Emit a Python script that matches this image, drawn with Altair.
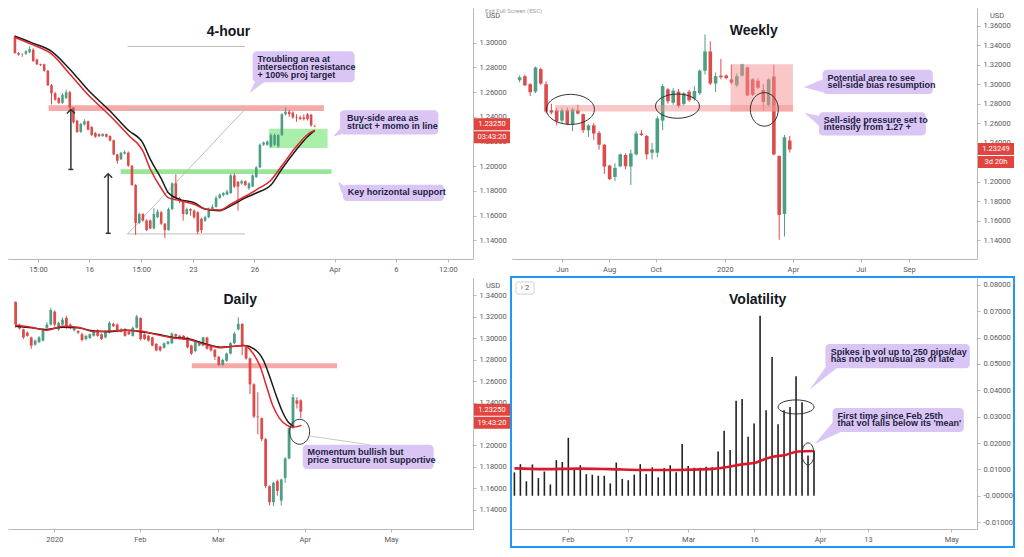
import altair as alt
import pandas as pd

W, H = 465, 251
GREEN = "#4c9f83"
RED = "#dc4c4c"
LAV = "#dac6f4"
NAVY = "#1d1d3f"
AXC = "#b8b8b8"
LABC = "#5a5a5a"
TAGC = "#e2453f"

# ---------------- 4-hour ----------------
H4_OPEN = [1.3052,1.2917,1.2904,1.2911,1.2922,1.2943,1.2864,1.2825,1.2825,1.2773,
           1.2656,1.2591,1.2552,1.2513,1.2552,1.2599,1.2474,1.2369,1.2278,1.2338,
           1.2364,1.2317,1.2270,1.2260,1.2244,1.2260,1.2244,1.2211,1.2096,1.2057,
           1.2103,1.2109,1.2004,1.1848,1.1541,1.1613,1.1561,1.1561,1.1496,1.1587,
           1.1627,1.1535,1.1483,1.1653,1.1861,1.1744,1.1723,1.1613,1.1653,1.1640,
           1.1627,1.1574,1.1560,1.1587,1.1653,1.1671,1.1744,1.1765,1.1770,1.1783,
           1.1926,1.1874,1.1861,1.1879,1.1822,1.1835,1.1913,1.1991,1.2174,1.2174,
           1.2161,1.2174,1.2161,1.2252,1.2421,1.2442,1.2434,1.2395,1.2395,1.2395,
           1.2421,1.2416,1.2325]
H4_CLOSE = [1.2917,1.2904,1.2906,1.2930,1.2948,1.2851,1.2825,1.2818,1.2773,1.2656,
            1.2591,1.2539,1.2513,1.2578,1.2599,1.2474,1.2356,1.2278,1.2343,1.2364,
            1.2296,1.2252,1.2239,1.2244,1.2260,1.2239,1.2208,1.2096,1.2044,1.2109,
            1.2114,1.2004,1.1848,1.1541,1.1613,1.1561,1.1483,1.1496,1.1613,1.1632,
            1.1535,1.1483,1.1653,1.1861,1.1744,1.1723,1.1613,1.1653,1.1640,1.1587,
            1.1470,1.1483,1.1587,1.1653,1.1671,1.1744,1.1770,1.1783,1.1796,1.1926,
            1.1835,1.1835,1.1879,1.1848,1.1861,1.1926,1.1991,1.2174,1.2192,1.2200,
            1.2252,1.2252,1.2252,1.2421,1.2442,1.2421,1.2395,1.2390,1.2382,1.2382,
            1.2382,1.2330,1.2322]
H4_HIGH = [1.3060,1.2925,1.2915,1.2940,1.2969,1.2955,1.2870,1.2830,1.2830,1.2780,
           1.2665,1.2600,1.2560,1.2590,1.2620,1.2610,1.2480,1.2375,1.2350,1.2380,
           1.2370,1.2325,1.2275,1.2265,1.2268,1.2265,1.2250,1.2215,1.2100,1.2115,
           1.2130,1.2120,1.2010,1.1855,1.1625,1.1620,1.1570,1.1570,1.1660,1.1650,
           1.1640,1.1540,1.1665,1.1870,1.1935,1.1750,1.1730,1.1665,1.1660,1.1650,
           1.1635,1.1585,1.1600,1.1665,1.1690,1.1760,1.1780,1.1790,1.1810,1.1940,
           1.1945,1.1880,1.1890,1.1885,1.1870,1.1935,1.2000,1.2185,1.2200,1.2210,
           1.2265,1.2265,1.2260,1.2430,1.2475,1.2455,1.2445,1.2420,1.2410,1.2420,
           1.2430,1.2425,1.2335]
H4_LOW = [1.2910,1.2895,1.2885,1.2900,1.2915,1.2845,1.2820,1.2812,1.2765,1.2650,
          1.2500,1.2530,1.2505,1.2505,1.2545,1.2465,1.2345,1.2270,1.2270,1.2330,
          1.2290,1.2245,1.2230,1.2235,1.2238,1.2232,1.2200,1.2090,1.2020,1.2050,
          1.2095,1.1995,1.1840,1.1444,1.1530,1.1550,1.1475,1.1490,1.1490,1.1580,
          1.1525,1.1418,1.1478,1.1645,1.1735,1.1700,1.1560,1.1605,1.1600,1.1575,
          1.1450,1.1460,1.1550,1.1580,1.1645,1.1665,1.1735,1.1755,1.1765,1.1775,
          1.1825,1.1640,1.1850,1.1840,1.1810,1.1830,1.1905,1.1985,1.2165,1.2165,
          1.2150,1.2165,1.2150,1.2245,1.2410,1.2400,1.2385,1.2360,1.2375,1.2370,
          1.2370,1.2320,1.2318]
H4_MA_X = [0, 5, 10, 15, 20, 26, 31, 35, 37, 40, 42, 45, 49, 52, 56, 59, 63, 66, 70, 73, 77, 80, 82]
H4_MA_BLACK = [1.3052,1.2995,1.2930,1.2786,1.2617,1.2447,1.2291,1.2187,1.2057,1.1900,1.1783,1.1731,
               1.1705,1.1653,1.1640,1.1679,1.1744,1.1783,1.1848,1.1978,1.2135,1.2239,1.2291]
H4_MA_RED = [1.3042,1.2982,1.2909,1.2747,1.2578,1.2408,1.2252,1.2122,1.1978,1.1822,1.1744,1.1723,
             1.1692,1.1653,1.1645,1.1692,1.1757,1.1809,1.1887,1.2004,1.2161,1.2257,1.2291]
H4_TICK_POS = [6.3, 20.3, 34.5, 48.7, 65.5, 87.4, 104.2, 118.4]
H4_TICK_LAB = ["15:00", "16", "15:00", "23", "26", "Apr", "6", "12:00"]
H4_YVALS = [1.14, 1.16, 1.18, 1.20, 1.22, 1.24, 1.26, 1.28, 1.30]

# ---------------- Weekly ----------------
WK_OPEN = [1.3040,1.3082,1.3000,1.2924,1.3155,1.3000,1.2733,1.2733,1.2627,1.2733,
           1.2588,1.2733,1.2693,1.2528,1.2578,1.2502,1.2380,1.2166,1.2050,1.2159,
           1.2275,1.2156,1.2281,1.2495,1.2469,1.2298,1.2298,1.2627,1.2947,1.2809,
           1.2924,1.2799,1.2924,1.2852,1.2908,1.3138,1.3336,1.3007,1.3089,1.3089,
           1.3049,1.2990,1.3089,1.3171,1.3049,1.3036,1.2941,1.2786,1.3079,1.2265,
           1.1671,1.2423]
WK_CLOSE = [1.3072,1.2990,1.2918,1.3171,1.3007,1.2720,1.2710,1.2621,1.2733,1.2594,
            1.2743,1.2700,1.2528,1.2578,1.2495,1.2380,1.2156,1.2027,1.2143,1.2281,
            1.2159,1.2291,1.2495,1.2479,1.2281,1.2331,1.2650,1.2980,1.2825,1.2934,
            1.2776,1.2908,1.2835,1.2931,1.3138,1.3336,1.3007,1.3082,1.3072,1.3063,
            1.3016,1.3082,1.3204,1.2885,1.2891,1.2964,1.2819,1.3049,1.2281,1.1661,
            1.2456,1.2331]
WK_HIGH = [1.3090,1.3100,1.3010,1.3180,1.3170,1.3030,1.2800,1.2760,1.2760,1.2760,
           1.2760,1.2790,1.2700,1.2590,1.2600,1.2520,1.2390,1.2175,1.2190,1.2290,
           1.2290,1.2330,1.2520,1.2530,1.2480,1.2400,1.2670,1.3000,1.2960,1.2960,
           1.2950,1.2920,1.2940,1.2980,1.3150,1.3510,1.3440,1.3120,1.3260,1.3100,
           1.3200,1.3110,1.3210,1.3180,1.3060,1.3060,1.3000,1.3060,1.3200,1.2270,
           1.2480,1.2470]
WK_LOW = [1.3020,1.2980,1.2880,1.2910,1.2990,1.2700,1.2690,1.2580,1.2600,1.2580,
          1.2520,1.2690,1.2500,1.2460,1.2430,1.2330,1.2080,1.2020,1.2010,1.2150,
          1.2130,1.1968,1.2270,1.2470,1.2230,1.2230,1.2250,1.2530,1.2800,1.2790,
          1.2760,1.2780,1.2820,1.2830,1.2890,1.3100,1.2990,1.2920,1.3050,1.3050,
          1.3000,1.2970,1.3080,1.2880,1.2880,1.2950,1.2730,1.2770,1.2270,1.1407,
          1.1440,1.2300]
WK_TICK_POS = [8.0, 16.9, 25.7, 38.75, 51.6, 64.4, 73.5]
WK_TICK_LAB = ["Jun", "Aug", "Oct", "2020", "Apr", "Jul", "Sep"]
WK_YVALS = [1.14, 1.16, 1.18, 1.20, 1.22, 1.24, 1.26, 1.28, 1.30, 1.32, 1.34, 1.36]

# ---------------- Daily ----------------
D_OPEN = [1.3340,1.3128,1.3083,1.3053,1.3008,1.2941,1.2963,1.2978,1.3098,1.3128,
          1.3249,1.3083,1.3128,1.3189,1.3128,1.3074,1.3068,1.3038,1.2993,1.3002,
          1.3023,1.3074,1.3038,1.3008,1.3053,1.3135,1.3128,1.3062,1.3083,1.3062,
          1.3023,1.3098,1.3189,1.3038,1.3023,1.3008,1.2948,1.2923,1.2911,1.2948,
          1.2954,1.3038,1.3023,1.3023,1.3008,1.2932,1.2881,1.2932,1.2932,1.3008,
          1.2932,1.2893,1.2827,1.2751,1.2791,1.2857,1.2954,1.3083,1.3135,1.2917,
          1.2812,1.2570,1.2269,1.2254,1.2058,1.1620,1.1469,1.1665,1.1484,1.1696,
          1.1877,1.2163,1.2420,1.2420]
D_CLOSE = [1.3128,1.3092,1.3008,1.3023,1.2932,1.2978,1.3008,1.3083,1.3128,1.3264,
           1.3128,1.3144,1.3174,1.3098,1.3098,1.3092,1.3053,1.2984,1.3023,1.3038,
           1.3062,1.3023,1.2993,1.3068,1.3144,1.3113,1.3068,1.3083,1.3023,1.3038,
           1.3098,1.3204,1.2993,1.2993,1.2978,1.2932,1.2887,1.2887,1.2954,1.2969,
           1.3044,1.3017,1.3008,1.2993,1.2917,1.2857,1.2963,1.2963,1.3008,1.2902,
           1.2887,1.2827,1.2751,1.2797,1.2857,1.2954,1.3044,1.3135,1.2932,1.2812,
           1.2570,1.2269,1.2263,1.2058,1.1620,1.1469,1.1650,1.1575,1.1681,1.1877,
           1.2163,1.2450,1.2389,1.2314]
D_HIGH = [1.3345,1.3135,1.3090,1.3065,1.3015,1.2990,1.3020,1.3090,1.3150,1.3285,
          1.3260,1.3155,1.3195,1.3210,1.3140,1.3100,1.3075,1.3050,1.3030,1.3045,
          1.3075,1.3085,1.3045,1.3075,1.3160,1.3145,1.3140,1.3095,1.3095,1.3070,
          1.3110,1.3219,1.3195,1.3045,1.3030,1.3015,1.2955,1.2930,1.2960,1.2975,
          1.3055,1.3045,1.3030,1.3030,1.3015,1.2940,1.2975,1.2975,1.3015,1.3015,
          1.2940,1.2900,1.2835,1.2810,1.2865,1.2965,1.3060,1.3195,1.3140,1.2925,
          1.2820,1.2580,1.2495,1.2260,1.2070,1.1625,1.1660,1.1681,1.1690,1.1890,
          1.2170,1.2480,1.2450,1.2430]
D_LOW = [1.3098,1.3080,1.2995,1.3015,1.2900,1.2930,1.2955,1.2970,1.3090,1.3120,
         1.3110,1.3070,1.3120,1.3090,1.3085,1.3065,1.3040,1.2970,1.2980,1.2995,
         1.3015,1.3015,1.2985,1.3000,1.3045,1.3105,1.3060,1.3055,1.3015,1.3030,
         1.3015,1.3090,1.2978,1.2985,1.2970,1.2925,1.2880,1.2875,1.2905,1.2940,
         1.2945,1.3010,1.3000,1.2985,1.2905,1.2845,1.2870,1.2925,1.2925,1.2895,
         1.2875,1.2797,1.2740,1.2740,1.2780,1.2850,1.2945,1.3075,1.2842,1.2800,
         1.2480,1.2255,1.2103,1.2040,1.1600,1.1439,1.1433,1.1530,1.1439,1.1650,
         1.1870,1.2155,1.2344,1.2254]
D_MA_DARK_X = [0, 4, 8, 12, 16, 20, 24, 28, 32, 36.3, 40.4, 44.5, 48.6, 52.7, 55.2, 58.5, 61, 63.4, 65, 66.7, 68.3, 70, 71.2]
D_MA_DARK = [1.3113,1.3098,1.3083,1.3104,1.3098,1.3068,1.3062,1.3074,1.3062,1.3038,1.3008,1.2993,
             1.2948,1.2917,1.2923,1.2932,1.2902,1.2797,1.2646,1.2465,1.2314,1.2208,1.2178]
D_MA_RED_X = [0, 4, 8, 12, 16, 20, 24, 28, 32, 36.3, 40.4, 44.5, 48.6, 52.7, 55.2, 58.5, 60.5, 62.6, 64.2, 65.8, 67.5, 69.5, 70.8, 72, 73.2]
D_MA_RED = [1.3122,1.3104,1.3074,1.3113,1.3104,1.3062,1.3068,1.3074,1.3068,1.3032,1.3002,1.2987,
            1.2941,1.2911,1.2923,1.2932,1.2872,1.2736,1.2555,1.2374,1.2254,1.2187,1.2169,1.2175,1.2187]
D_TICK_POS = [9.9, 31.8, 51.8, 74.0, 96.1]
D_TICK_LAB = ["2020", "Feb", "Mar", "Apr", "May"]
D_YVALS = [1.14, 1.16, 1.18, 1.20, 1.22, 1.24, 1.26, 1.28, 1.30, 1.32, 1.34]

# ---------------- Volatility ----------------
VOL = [0.0089,0.0120,0.0055,0.0119,0.0067,0.0092,0.0043,0.0135,0.0128,0.0220,
       0.0104,0.0116,0.0082,0.0080,0.0076,0.0076,0.0047,0.0126,0.0064,0.0059,
       0.0080,0.0120,0.0082,0.0108,0.0070,0.0105,0.0116,0.0089,0.0196,0.0113,
       0.0106,0.0106,0.0110,0.0108,0.0168,0.0247,0.0174,0.0360,0.0367,0.0224,
       0.0274,0.0683,0.0324,0.0526,0.0271,0.0324,0.0337,0.0453,0.0355,0.0153,
       0.0171]
VOL_MEAN_X = [0, 5, 10.5, 16, 21.5, 27, 32.5, 35.3, 38, 40.2, 41.3, 43, 45.2, 47.4, 50]
VOL_MEAN = [0.0104,0.0101,0.0103,0.0101,0.0098,0.0098,0.0101,0.0108,0.0119,0.0125,0.0135,0.0147,0.0155,0.0168,0.0170]
V_TICK_POS = [8.9, 19, 29, 40, 51, 59, 72.9]
V_TICK_LAB = ["Feb", "17", "Mar", "16", "Apr", "13", "May"]
V_YVALS = [-0.01, 0.0, 0.01, 0.02, 0.03, 0.04, 0.05, 0.06, 0.07, 0.08]

TAGP = "M-1,-0.333L1,-0.333L1,0.333L-1,0.333Z"


def ellipse(r):
    k = 0.5523
    return (f"M1,0C1,{k*r:.3f} {k},{r} 0,{r}C-{k},{r} -1,{k*r:.3f} -1,0"
            f"C-1,-{k*r:.3f} -{k},-{r} 0,-{r}C{k},-{r} 1,-{k*r:.3f} 1,0Z")


def lab_expr(pos, labels):
    e = "''"
    for p, l in reversed(list(zip(pos, labels))):
        e = f"datum.value == {p} ? '{l}' : ({e})"
    return e


def xaxis(pos, labels):
    return alt.Axis(values=pos, labelExpr=lab_expr(pos, labels), title=None, grid=False,
                    domainColor=AXC, tickColor=AXC, tickSize=3, labelPadding=3,
                    labelFontSize=7.5, labelColor=LABC, labelFont="Roboto",
                    labelOverlap=False, labelFlush=False, minExtent=18, maxExtent=18,
                    labelFontWeight={"condition": {"test": "datum.label == '2020'", "value": "bold"},
                                     "value": "normal"})


def yaxis(vals, expr=None):
    kw = dict(orient="right", values=vals, format=".5f", title=None, grid=False,
              domainColor=AXC, tickColor=AXC, tickSize=3, labelPadding=3,
              labelFontSize=7.5, labelColor=LABC, labelFont="Roboto",
              labelOverlap=False, labelFlush=False, minExtent=39, maxExtent=39)
    if expr:
        kw["labelExpr"] = expr
    return alt.Axis(**kw)


class Panel:
    def __init__(self, xd, yd, xax, yax):
        self.xs = alt.Scale(domain=xd, nice=False, zero=False)
        self.ys = alt.Scale(domain=yd, nice=False, zero=False)
        self.xax = xax
        self.yax = yax

    def X(self, f):
        return alt.X(f, type="quantitative", scale=self.xs, axis=self.xax)

    def Y(self, f):
        return alt.Y(f, type="quantitative", scale=self.ys, axis=self.yax)


def candles(P, o, h, l, c, body):
    df = pd.DataFrame({"i": list(range(len(o))), "o": o, "h": h, "l": l, "c": c})
    col = alt.condition("datum.c >= datum.o", alt.value(GREEN), alt.value(RED))
    base = alt.Chart(df)
    wick = base.mark_rule(strokeWidth=1).encode(x=P.X("i"), y=P.Y("l"), y2="h", color=col)
    bod = base.mark_bar(size=body).encode(x=P.X("i"), y=P.Y("o"), y2="c", color=col)
    return [wick, bod]


def rects(P, x1, x2, y1, y2, **mk):
    df = pd.DataFrame({"x1": x1, "x2": x2, "y1": y1, "y2": y2})
    return alt.Chart(df).mark_rect(**mk).encode(x=P.X("x1"), x2="x2", y=P.Y("y1"), y2="y2")


def rules(P, x1, x2, y1, y2, **mk):
    df = pd.DataFrame({"x1": x1, "x2": x2, "y1": y1, "y2": y2})
    return alt.Chart(df).mark_rule(**mk).encode(x=P.X("x1"), x2="x2", y=P.Y("y1"), y2="y2")


def texts(P, x, y, t, **mk):
    df = pd.DataFrame({"x": x, "y": y, "t": t})
    return alt.Chart(df).mark_text(**mk).encode(x=P.X("x"), y=P.Y("y"), text="t:N")


def points(P, x, y, shape, size, **mk):
    df = pd.DataFrame({"x": x, "y": y})
    return alt.Chart(df).mark_point(shape=shape, size=size, **mk).encode(x=P.X("x"), y=P.Y("y"))


def line(P, x, y, **mk):
    df = pd.DataFrame({"x": x, "y": y})
    return alt.Chart(df).mark_line(interpolate="monotone", **mk).encode(x=P.X("x"), y=P.Y("y"))


def title(P, x, y, t):
    return texts(P, [x], [y], [t], font="Liberation Sans", fontSize=14, fontWeight="bold",
                 color="#131722", align="center", baseline="middle")


def callout_text(P, x, ys, lines):
    return texts(P, [x] * len(lines), ys, lines, font="Liberation Sans", fontSize=9,
                 fontWeight="bold", color=NAVY, align="left", baseline="middle")


def tags(P, price, a, b):
    df = pd.DataFrame({"y": [price], "a": [a], "b": [b]})
    base = alt.Chart(df)
    out = []
    for off, field in ((0, "a"), (13, "b")):
        out.append(base.mark_point(shape=TAGP, size=1296, filled=True, color=TAGC, opacity=1,
                                   strokeWidth=0, yOffset=off)
                   .encode(x=alt.value(W + 19), y=P.Y("y")))
        out.append(base.mark_text(color="white", fontSize=7.5, font="Roboto", yOffset=off)
                   .encode(x=alt.value(W + 19), y=P.Y("y"), text=f"{field}:N"))
    return out


def usd():
    return alt.Chart(pd.DataFrame({"t": ["USD"]})).mark_text(
        fontSize=7.5, font="Roboto", color=LABC).encode(
        x=alt.value(W + 20), y=alt.value(8), text="t:N")


LAVMK = dict(color=LAV, cornerRadius=4)
TAILMK = dict(filled=True, color=LAV, opacity=1, strokeWidth=0)

# ======== Panel 1: 4-hour ========
P1 = Panel([-0.53, 123.9], [1.1249, 1.3281], xaxis(H4_TICK_POS, H4_TICK_LAB), yaxis(H4_YVALS))
p1_layers = [
    rects(P1, [9.2], [84.5], [1.2448], [1.2493], color="#f59a9a", opacity=0.85),
    rects(P1, [28.9], [86.6], [1.1937], [1.1975], color="#7fe07f", opacity=0.8),
    rects(P1, [69.5], [85.5], [1.2148], [1.2304], color="#8ce98c", opacity=0.75),
    rules(P1, [30.8, 30.8, 30.8, 30.8], [62.9, 62.9, 62.9, 62.9],
          [1.2969, 1.2461, 1.1452, 1.1452], [1.2969, 1.2461, 1.1452, 1.2461],
          color="#bdbdbd", strokeWidth=1),
    *candles(P1, H4_OPEN, H4_HIGH, H4_LOW, H4_CLOSE, 2.6),
    line(P1, H4_MA_X, H4_MA_BLACK, color="#1a1a1a", strokeWidth=1.5),
    line(P1, H4_MA_X, H4_MA_RED, color="#e3242b", strokeWidth=1.5),
    rules(P1, [15.3, 25.5], [15.3, 25.5], [1.1974, 1.1457], [1.2460, 1.1939],
          color="#333333", strokeWidth=1.5),
    points(P1, [15.3, 25.5], [1.2460, 1.1939], "M-1,1L0,0L1,1", 64, filled=False,
           color="#333333", strokeWidth=1.5, opacity=1),
    points(P1, [15.3, 25.5], [1.1974, 1.1457], "M-1,0L1,0", 25, filled=False,
           color="#333333", strokeWidth=1.5, opacity=1),
    title(P1, 58.4, 1.3086, "4-hour"),
    rects(P1, [65.0], [92.9], [1.2679], [1.2930], **LAVMK),
    points(P1, [66.3], [1.2640], "M-0.25,-0.75L1,-0.75L-1,0.75Z", 256, **TAILMK),
    callout_text(P1, 66.3, [1.2867, 1.2805, 1.2742],
                 ["Troubling area at", "intersection resistance", "+ 100% proj target"]),
    rects(P1, [88.9], [115.8], [1.2257], [1.2453], **LAVMK),
    points(P1, [88.4], [1.2273], "M0.6,-1L0.6,0.4L-1,0.8Z", 100, **TAILMK),
    callout_text(P1, 90.8, [1.2390, 1.2328], ["Buy-side area as", "struct + momo in line"]),
    rects(P1, [89.7], [117.4], [1.1718], [1.1851], **LAVMK),
    points(P1, [90.0], [1.1820], "M-0.33,0.83L1.33,0.5L-1,-1.17Z", 144, **TAILMK),
    callout_text(P1, 91.0, [1.1788], ["Key horizontal support"]),
    *tags(P1, 1.2340, "1.23250", "03:43:20"),
    usd(),
    alt.Chart(pd.DataFrame({"t": ["Exit Full Screen (ESC)"]})).mark_text(
        fontSize=6, font="Roboto", color="#a0a0a0", align="left").encode(
        x=alt.value(W + 12), y=alt.value(3), text="t:N"),
]
p1 = alt.layer(*p1_layers).properties(width=W, height=H)

# ======== Panel 2: Weekly ========
P2 = Panel([-0.49, 85.4], [1.1209, 1.3781], xaxis(WK_TICK_POS, WK_TICK_LAB), yaxis(WK_YVALS))
p2_layers = [
    *candles(P2, WK_OPEN, WK_HIGH, WK_LOW, WK_CLOSE, 3.6),
    rects(P2, [6.7], [51.6], [1.2720], [1.2786], color="#f48f8f", opacity=0.5),
    rects(P2, [39.8], [51.6], [1.2720], [1.3204], color="#f48f8f", opacity=0.5),
    points(P2, [9.6], [1.2742], ellipse(0.625), 2304, filled=False, color="#333333",
           strokeWidth=1, opacity=1),
    points(P2, [29.8], [1.2775], ellipse(0.55), 1936, filled=False, color="#333333",
           strokeWidth=1, opacity=1),
    points(P2, [46.2], [1.2742], ellipse(1.2), 784, filled=False, color="#333333",
           strokeWidth=1, opacity=1),
    title(P2, 44.2, 1.3544, "Weekly"),
    rects(P2, [57.2], [78.0], [1.2900], [1.3148], **LAVMK),
    points(P2, [56.1], [1.2979], "M0.6,-0.7L0.6,0.6L-1.3,0.1Z", 400, **TAILMK),
    callout_text(P2, 58.1, [1.3062, 1.2990], ["Potential area to see", "sell-side bias resumption"]),
    rects(P2, [56.5], [76.7], [1.2474], [1.2712], **LAVMK),
    points(P2, [55.6], [1.2653], "M0.53,-0.2L0.53,0.8L-1,-0.53Z", 400, **TAILMK),
    callout_text(P2, 57.4, [1.2634, 1.2562], ["Sell-side pressure set to", "intensify from 1.27 +"]),
    *tags(P2, 1.2335, "1.23249", "3d 20h"),
    usd(),
]
p2 = alt.layer(*p2_layers).properties(width=W, height=H)

# ======== Panel 3: Daily ========
P3 = Panel([-0.67, 115.8], [1.1219, 1.3563], xaxis(D_TICK_POS, D_TICK_LAB), yaxis(D_YVALS))
p3_layers = [
    rects(P3, [45.1], [82.3], [1.2721], [1.2767], color="#f59a9a", opacity=0.85),
    *candles(P3, D_OPEN, D_HIGH, D_LOW, D_CLOSE, 2.8),
    line(P3, D_MA_DARK_X, D_MA_DARK, color="#1a1a1a", strokeWidth=1.5),
    line(P3, D_MA_RED_X, D_MA_RED, color="#e3242b", strokeWidth=1.5),
    points(P3, [72.7], [1.2127], ellipse(1.25), 400, filled=False, color="#333333",
           strokeWidth=1, opacity=1),
    rules(P3, [75.2], [90.5], [1.2088], [1.2006], color="#c8c8c8", strokeWidth=1),
    title(P3, 57.5, 1.3355, "Daily"),
    rects(P3, [73.5], [107.0], [1.1780], [1.2006], **LAVMK),
    callout_text(P3, 74.7, [1.1934, 1.1862], ["Momentum bullish but", "price structure not supportive"]),
    *tags(P3, 1.2332, "1.23250", "19:43:20"),
    usd(),
]
p3 = alt.layer(*p3_layers).properties(width=W, height=H)

# ======== Panel 4: Volatility ========
P4 = Panel([-0.4, 77.2], [-0.0126, 0.0826], xaxis(V_TICK_POS, V_TICK_LAB),
           yaxis(V_YVALS, "datum.value == 0 ? '-0.00000' : replace(format(datum.value, '.5f'), '\u2212', '-')"))
vdf = pd.DataFrame({"i": list(range(len(VOL))), "v": VOL})
p4_layers = [
    alt.Chart(vdf).mark_rule(color="#222222", strokeWidth=1.6).encode(
        x=P4.X("i"), y=P4.Y("v"), y2=alt.Y2(datum=0)),
    line(P4, VOL_MEAN_X, VOL_MEAN, color="#d81b2a", strokeWidth=2.6),
    points(P4, [47.0], [0.0337], ellipse(0.39), 1296, filled=False, color="#333333",
           strokeWidth=1, opacity=1),
    points(P4, [49.0], [0.0159], ellipse(1.83), 144, filled=False, color="#333333",
           strokeWidth=1, opacity=1),
    title(P4, 40.6, 0.0741, "Volatility"),
    rects(P4, [51.9], [76.0], [0.0484], [0.0576], **LAVMK),
    points(P4, [51.6], [0.0451], "M0.25,-0.92L1.33,-0.92L-1.17,1.08Z", 576, **TAILMK),
    callout_text(P4, 52.8, [0.0544, 0.0517],
                 ["Spikes in vol up to 250 pips/day", "has not be unusual as of late"]),
    rects(P4, [53.1], [75.0], [0.0242], [0.0333], **LAVMK),
    points(P4, [52.3], [0.0238], "M0.6,-1.2L1.5,-0.2L-1.3,1.1Z", 400, **TAILMK),
    callout_text(P4, 53.9, [0.0303, 0.0276],
                 ["First time since Feb 25th", "that vol falls below its 'mean'"]),
    alt.Chart(pd.DataFrame({"a": [0]})).mark_rect(
        fill="white", stroke="#d0d0d0", strokeWidth=1, cornerRadius=2).encode(
        x=alt.value(4), x2=alt.value(22), y=alt.value(4), y2=alt.value(16)),
    alt.Chart(pd.DataFrame({"t": ["\u203a 2"]})).mark_text(
        fontSize=7.5, font="Roboto", color="#555555").encode(
        x=alt.value(13), y=alt.value(10), text="t:N"),
    alt.Chart(pd.DataFrame({"a": [0]})).mark_rect(
        filled=False, stroke="#2196f3", strokeWidth=2).encode(
        x=alt.value(-1), x2=alt.value(W + 37), y=alt.value(-1), y2=alt.value(H + 18)),
]
p4 = alt.layer(*p4_layers).properties(width=W, height=H)

chart = alt.concat(p1, p2, p3, p4, columns=2, spacing={"row": 19, "column": 39},
                   bounds="flush").properties(padding=0, background="white").configure_view(stroke=None)

chart.save("out.html", embed_options={"renderer": "svg", "actions": False})
